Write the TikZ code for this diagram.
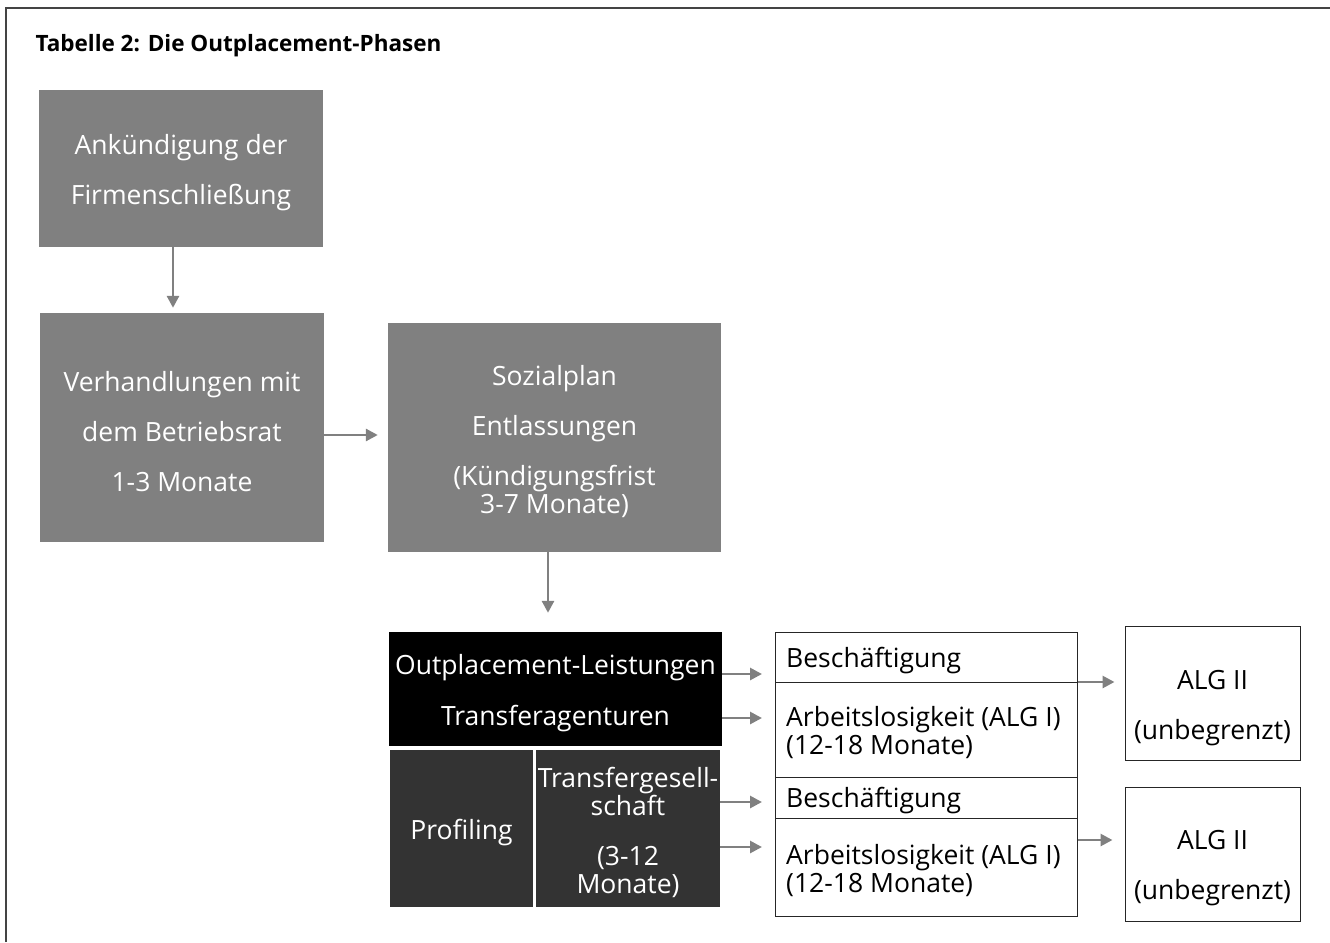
\documentclass[tikz,border=0pt]{standalone}
\usepackage{fontspec}
\setmainfont{Open Sans}
\usetikzlibrary{arrows.meta}
\definecolor{phase-gray}{HTML}{808080}
\definecolor{phase-dark}{HTML}{333333}
\definecolor{frame-gray}{HTML}{444444}
\newcommand{\topgap}{\rule{0pt}{28pt}}

\tikzset{
  phase/.style={fill=phase-gray, text=white, align=center, inner sep=0pt},
  arr/.style={-{Triangle[length=12pt,width=12pt]}, line width=2.8pt, draw=phase-gray},
  outbox/.style={draw=black!85, line width=1pt, align=left, inner sep=0pt, anchor=north west}
}

\begin{document}
\begin{tikzpicture}[x=1pt, y=-1pt, every node/.style={font=\fontsize{26.5}{28}\selectfont}]
      \useasboundingbox (0,0) rectangle (1330,942);
      \draw[frame-gray, line width=2pt] (6,942) -- (6,8) -- (1330,8);
      \node[anchor=base west, font=\fontsize{22.5}{26}\selectfont\bfseries]
        (title) at (32,52) {Tabelle 2: Die Outplacement-Phasen};
      % Phasen vor der Entlassung
      \node[phase, minimum width=284pt, minimum height=157pt]
        (ank) at (181,168.5) {\topgap Ankündigung der\\[22pt]Firmenschließung};
      \node[phase, minimum width=284pt, minimum height=229pt]
        (verh) at (182,427.5) {\topgap Verhandlungen mit\\[22pt]dem Betriebsrat\\[22pt]1-3 Monate};
      \node[phase, minimum width=333pt, minimum height=229pt]
        (sozial) at (554.5,437.5) {\topgap Sozialplan\\[22pt]Entlassungen\\[22pt](Kündigungsfrist\\3-7 Monate)};
      % Outplacement
      \node[phase, fill=black, minimum width=333pt, minimum height=114pt]
        (outpl) at (555.5,689) {\topgap Outplacement-Leistungen\\[23pt]Transferagenturen};
      \node[phase, fill=phase-dark, minimum width=143pt, minimum height=157pt]
        (prof) at (461.5,828.5) {\topgap Profiling};
      \node[phase, fill=phase-dark, minimum width=184pt, minimum height=157pt]
        (transges) at (628,828.5) {\topgap Transfergesell-\\schaft\\[22pt](3-12\\Monate)};
      % Ergebnisse
      \node[outbox, minimum width=302pt, minimum height=50pt]
        (beschA) at (775,632) {};
      \node[outbox, minimum width=302pt, minimum height=95pt]
        (arbA) at (775,682) {};
      \node[outbox, minimum width=302pt, minimum height=41pt]
        (beschB) at (775,777) {};
      \node[outbox, minimum width=302pt, minimum height=98pt]
        (arbB) at (775,818) {};
      \node[anchor=west, inner sep=0pt] (tbeschA) at (786,661) {Beschäftigung};
      \node[anchor=west, align=left, inner sep=0pt] (tarbA) at (786,733) {Arbeitslosigkeit (ALG I)\\(12-18 Monate)};
      \node[anchor=west, inner sep=0pt] (tbeschB) at (786,801) {Beschäftigung};
      \node[anchor=west, align=left, inner sep=0pt] (tarbB) at (786,871) {Arbeitslosigkeit (ALG I)\\(12-18 Monate)};
      \node[draw=black!85, line width=1pt, minimum width=175pt, minimum height=134pt]
        (algA) at (1212.5,693) {};
      \node[draw=black!85, line width=1pt, minimum width=175pt, minimum height=134pt]
        (algB) at (1212.5,854) {};
      \node[align=center, inner sep=0pt] (talgA) at (1212.5,708) {ALG II\\[22pt](unbegrenzt)};
      \node[align=center, inner sep=0pt] (talgB) at (1212.5,868) {ALG II\\[22pt](unbegrenzt)};
      % Pfeile
      \draw[arr, shorten >=5pt] ([xshift=-8pt]ank.south) -- ([xshift=-8pt]ank.south |- verh.north);
      \draw[arr, shorten >=10pt] ([yshift=-7.5pt]verh.east) -- ([yshift=-7.5pt]verh.east -| sozial.west);
      \draw[arr, shorten >=19pt] ([xshift=-6.5pt]sozial.south) -- ([xshift=-6.5pt]sozial.south |- outpl.north);
      \draw[arr, shorten >=13pt] (outpl.east |- 0,674) -- (beschA.west |- 0,674);
      \draw[arr, shorten >=13pt] (outpl.east |- 0,718) -- (arbA.west |- 0,718);
      \draw[arr, shorten >=13pt] (transges.east |- 0,802) -- (beschB.west |- 0,802);
      \draw[arr, shorten >=13pt] (transges.east |- 0,847) -- (arbB.west |- 0,847);
      \draw[arr, shorten >=10pt] (arbA.north east) -- (arbA.north east -| algA.west);
      \draw[arr, shorten >=12pt] (arbB.east |- 0,840) -- (algB.west |- 0,840);
    \end{tikzpicture}
\end{document}
